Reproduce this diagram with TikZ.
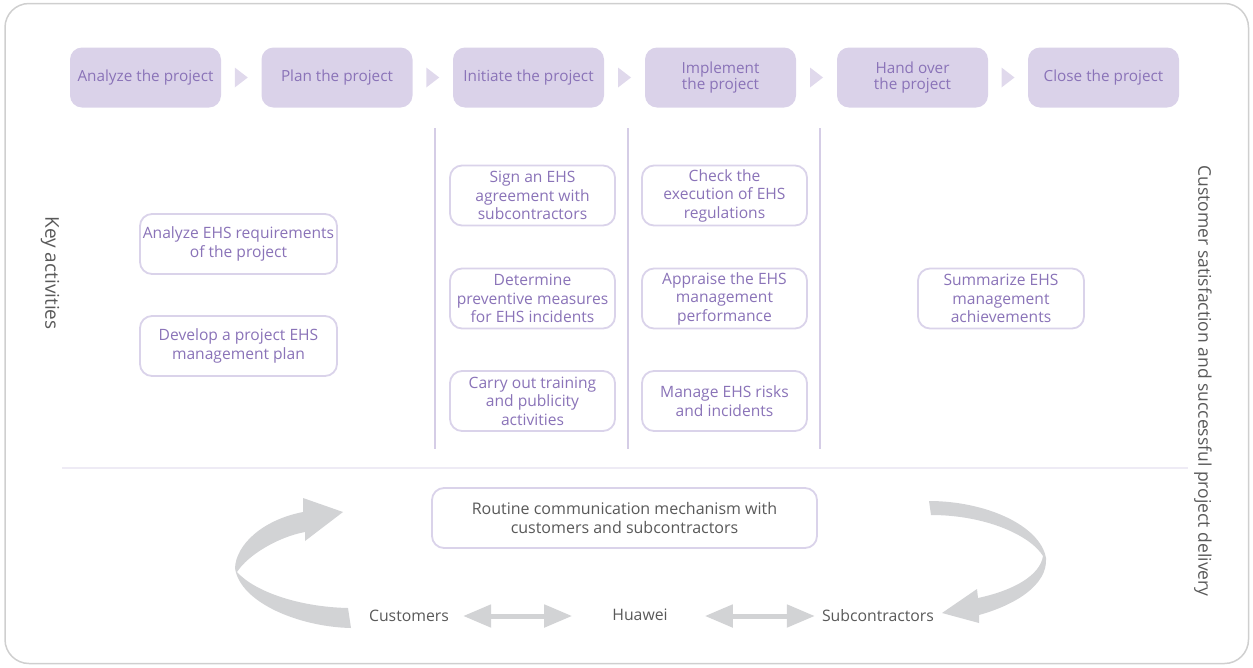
\documentclass[tikz,border=0pt]{standalone}
\usepackage{fontspec}
\setmainfont{Open Sans}
\usetikzlibrary{arrows.meta,calc}

\definecolor{phasefill}{HTML}{DAD2E9}
\definecolor{phasetext}{HTML}{8A73B8}
\definecolor{actline}{HTML}{DAD3EA}
\definecolor{sepline}{HTML}{D5CDE6}
\definecolor{hairline}{HTML}{EEEBF5}
\definecolor{framegray}{HTML}{CFCFCF}
\definecolor{labelgray}{HTML}{595959}
\definecolor{arrowgray}{HTML}{D2D3D5}

\tikzset{
  phase/.style={fill=phasefill, rounded corners=12pt, minimum width=151pt,
    minimum height=60pt, inner sep=0pt, text=phasetext, align=center,
    font=\fontsize{15.3}{16.5}\selectfont},
  activity/.style={draw=actline, line width=1.8pt, fill=white,
    rounded corners=12pt, minimum height=60pt, inner sep=0pt,
    text=phasetext, align=center, font=\fontsize{15.6}{18.5}\selectfont},
  grouplabel/.style={text=labelgray, inner sep=0pt},
  party/.style={text=labelgray, inner sep=0pt,
    font=\fontsize{15.8}{18}\selectfont},
  exchange/.style={draw=arrowgray, line width=5pt,
    {Triangle[width=22pt,length=28pt]}-{Triangle[width=22pt,length=28pt]}},
  chevron/.style={fill=phasefill!85},
}

\begin{document}
\begin{tikzpicture}[x=1pt,y=-1pt]
\useasboundingbox (0,0) rectangle (1253,667);

% outer frame
\draw[framegray, line width=1.5pt, rounded corners=24pt] (5,3.5) rectangle (1248.5,663.5);

% project phases
\node[phase] (p1) at (145.5,77.5) {Analyze the project};
\node[phase] (p2) at (337,77.5) {Plan the project};
\node[phase] (p3) at (528.5,77.5) {Initiate the project};
\node[phase] (p4) at (720.5,77.5) {Implement\\the project};
\node[phase] (p5) at (912.5,77.5) {Hand over\\the project};
\node[phase] (p6) at (1103.5,77.5) {Close the project};

% chevrons between consecutive phases
\foreach \a/\b in {p1/p2,p2/p3,p3/p4,p4/p5,p5/p6}{
  \fill[chevron] ($(\a.east)!0.5!(\b.west)$) ++(-6.5,-10) -- ++(13,10) -- ++(-13,10) -- cycle;
}

% column separators
\foreach \x in {435,628,820}{
  \draw[sepline, line width=1.6pt] (\x,128) -- (\x,449);
}

% separator between activities and communication
\draw[hairline, line width=1.4pt] (62,468) -- (1188,468);

% key activities
\node[activity, minimum width=197pt] (a1) at (238.5,244) {Analyze EHS requirements\\of the project};
\node[activity, minimum width=197pt] (a2) at (238.5,346) {Develop a project EHS\\management plan};

\node[activity, minimum width=165pt] (b1) at (532.5,195.5) {Sign an EHS\\agreement with\\subcontractors};
\node[activity, minimum width=165pt] (b2) at (532.5,298.5) {Determine\\preventive measures\\for EHS incidents};
\node[activity, minimum width=165pt] (b3) at (532.5,401) {Carry out training\\and publicity\\activities};

\node[activity, minimum width=165pt] (c1) at (724.5,195.5) {Check the\\execution of EHS\\regulations};
\node[activity, minimum width=165pt] (c2) at (724.5,298.5) {Appraise the EHS\\management\\performance};
\node[activity, minimum width=165pt] (c3) at (724.5,401) {Manage EHS risks\\and incidents};

\node[activity, minimum width=166pt] (d1) at (1001,298.5) {Summarize EHS\\management\\achievements};

% side labels
\node[grouplabel, rotate=-90, font=\fontsize{19}{22}\selectfont] (keyact) at (50,273) {Key activities};
\node[grouplabel, rotate=-90, font=\fontsize{17.5}{20}\selectfont] (outcome) at (1203,381) {Customer satisfaction and successful project delivery};

% communication mechanism
\node[activity, minimum width=385pt, text=labelgray,
  font=\fontsize{16}{19}\selectfont] (routine) at (624.5,518)
  {Routine communication mechanism with\\customers and subcontractors};

% parties
\node[party] (cust) at (409,616) {Customers};
\node[party] (hw) at (640,615) {Huawei};
\node[party] (sub) at (878,616) {Subcontractors};

\draw[exchange, shorten <=14pt, shorten >=40pt] (cust.east) -- (cust.east -| hw.west);
\draw[exchange, shorten <=37pt, shorten >=7pt] (cust.east -| hw.east) -- (cust.east -| sub.west);

% left curved ribbon arrow
\fill[arrowgray] (351,628) .. controls (300,627) and (240,603) .. (235,568)
  .. controls (236,545) and (262,520) .. (303,512)
  -- (303,498) -- (343,512) -- (305,541) -- (305,532)
  .. controls (278,537) and (248,555) .. (237,572)
  .. controls (255,592) and (300,607) .. (348,608) -- cycle;

% right curved ribbon arrow
\fill[arrowgray] (929,501) .. controls (985,501) and (1040,525) .. (1046,558)
  .. controls (1048,585) and (1015,605) .. (979,615)
  -- (979,623) -- (942,613) -- (977,589) -- (978,598)
  .. controls (1015,590) and (1040,575) .. (1043,556)
  .. controls (1030,535) and (985,515) .. (931,515) -- cycle;

\end{tikzpicture}
\end{document}
